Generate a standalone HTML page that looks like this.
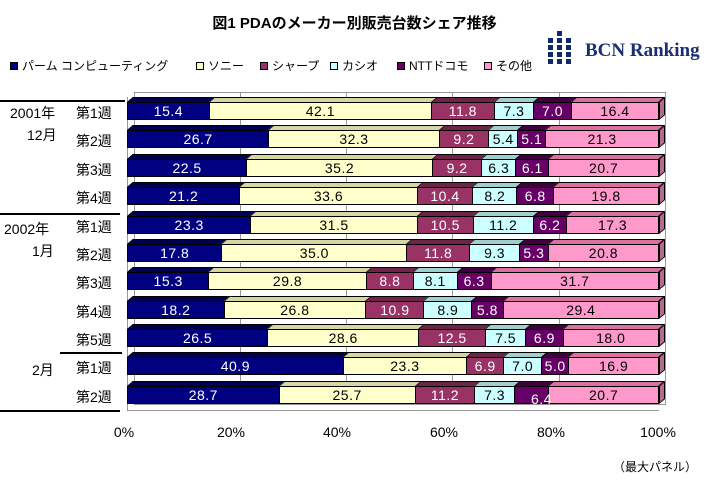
<!DOCTYPE html>
<html><head><meta charset="utf-8"><style>
*{margin:0;padding:0;box-sizing:border-box}
body{width:709px;height:482px;background:#fff;position:relative;overflow:hidden;font-family:"Liberation Sans","Noto Sans CJK JP",sans-serif;color:#000}
.abs{position:absolute}
.row{position:absolute;left:127px;width:532px;height:18px}
.f,.t{position:absolute;left:0;top:0;width:100%;display:flex}
.f{height:18px}
.t{height:5px;top:-5px;transform:skewX(-50deg);transform-origin:0 100%}
.f div{border:1px solid #000;border-right:0;height:18px;font-size:14px;line-height:16px;text-align:center;overflow:visible;white-space:nowrap;letter-spacing:0.5px}
.f div:last-child{border-right:1px solid #000}
.t div{height:5px;border-top:1px solid #000;border-left:1px solid #000}
.t div:last-child{border-right:1px solid #000}
.e{position:absolute;right:-6px;top:-5px;width:6px;height:18px;background:#b36b8f;border:1px solid #000;transform:skewY(-40deg);transform-origin:0 100%;top:0}
.a{background:#000080;color:#fff}.b{background:#ffffcc}.c{background:#993366;color:#fff}.d{background:#ccffff}.g{background:#660066;color:#fff}.h{background:#ff99cc}
.t .a{background:#000050}.t .b{background:#d6d6a0}.t .c{background:#6e2449}.t .d{background:#9fcfcf}.t .g{background:#400040}.t .h{background:#d9709f}
.lab{position:absolute;font-size:14px;left:76px}
.lg{position:absolute;top:57px;font-size:12px}
.sq{display:inline-block;width:8px;height:8px;border:1px solid #000;margin-right:4px;vertical-align:0}
.tk{position:absolute;top:424px;font-size:14px;width:60px;text-align:center}
.gl{position:absolute;width:1px;background:#999;top:92px;height:313px}
.dot{position:absolute;width:5px;height:5px;background:#0d2a6b}
</style></head><body>
<div class="abs" style="left:0;width:709px;top:12px;text-align:center;font-weight:bold;font-size:15px">図1 PDAのメーカー別販売台数シェア推移</div>
<div class="lg" style="left:10px"><span class="sq" style="background:#000080"></span>パーム コンピューティング</div>
<div class="lg" style="left:196px"><span class="sq" style="background:#ffffcc"></span>ソニー</div>
<div class="lg" style="left:260px"><span class="sq" style="background:#993366"></span>シャープ</div>
<div class="lg" style="left:330px"><span class="sq" style="background:#ccffff"></span>カシオ</div>
<div class="lg" style="left:397px"><span class="sq" style="background:#660066"></span>NTTドコモ</div>
<div class="lg" style="left:484px"><span class="sq" style="background:#ff99cc"></span>その他</div>
<div class="dot" style="left:557px;top:31px"></div>
<div class="dot" style="left:548px;top:38px"></div><div class="dot" style="left:557px;top:38px"></div><div class="dot" style="left:566px;top:38px"></div>
<div class="dot" style="left:548px;top:45px"></div><div class="dot" style="left:557px;top:45px"></div><div class="dot" style="left:566px;top:45px"></div>
<div class="dot" style="left:548px;top:52px"></div><div class="dot" style="left:557px;top:52px"></div><div class="dot" style="left:566px;top:52px"></div>
<div class="dot" style="left:548px;top:59px"></div><div class="dot" style="left:557px;top:59px"></div><div class="dot" style="left:566px;top:59px"></div>
<div class="abs" style="left:585px;top:40px;font-family:'Liberation Serif',serif;font-weight:bold;font-size:19px;color:#1a2f73">BCN Ranking</div>

<div class="abs" style="left:127px;top:97px;width:1px;height:314px;background:#999"></div>
<div class="abs" style="left:134px;top:92px;width:1px;height:313px;background:#999"></div>
<div class="abs" style="left:134px;top:92px;width:531px;height:1px;background:#999"></div>
<div class="abs" style="left:665px;top:92px;width:1px;height:313px;background:#999"></div>
<div class="abs" style="left:127px;top:410px;width:532px;height:1px;background:#999"></div>
<div class="abs" style="left:134px;top:404px;width:531px;height:1px;background:#999"></div>
<div class="gl" style="left:240px"></div><div class="gl" style="left:346px"></div><div class="gl" style="left:452px"></div><div class="gl" style="left:559px"></div>

<div class="abs" style="left:0;top:100px;width:125px;height:2px;background:#000"></div>
<div class="abs" style="left:0;top:213px;width:120px;height:2px;background:#000"></div>
<div class="abs" style="left:60px;top:352px;width:62px;height:2px;background:#000"></div>
<div class="abs" style="left:0;top:410px;width:120px;height:2px;background:#000"></div>
<div class="abs" style="left:10px;top:103px;font-size:14px">2001年</div>
<div class="abs" style="left:27px;top:125px;font-size:14px">12月</div>
<div class="abs" style="left:4px;top:219px;font-size:14px">2002年</div>
<div class="abs" style="left:32px;top:241px;font-size:14px">1月</div>
<div class="abs" style="left:32px;top:360px;font-size:14px">2月</div>
<div class="lab" style="top:103px">第1週</div>
<div class="lab" style="top:131px">第2週</div>
<div class="lab" style="top:160px">第3週</div>
<div class="lab" style="top:188px">第4週</div>
<div class="lab" style="top:217px">第1週</div>
<div class="lab" style="top:245px">第2週</div>
<div class="lab" style="top:273px">第3週</div>
<div class="lab" style="top:302px">第4週</div>
<div class="lab" style="top:330px">第5週</div>
<div class="lab" style="top:358px">第1週</div>
<div class="lab" style="top:387px">第2週</div>

<div class="row" style="top:102px"><div class="t"><div class="a" style="flex:15.4"></div><div class="b" style="flex:42.1"></div><div class="c" style="flex:11.8"></div><div class="d" style="flex:7.3"></div><div class="g" style="flex:7.0"></div><div class="h" style="flex:16.4"></div></div><div class="f"><div class="a" style="flex:15.4">15.4</div><div class="b" style="flex:42.1">42.1</div><div class="c" style="flex:11.8">11.8</div><div class="d" style="flex:7.3">7.3</div><div class="g" style="flex:7.0">7.0</div><div class="h" style="flex:16.4">16.4</div></div><div class="e"></div></div>
<div class="row" style="top:130px"><div class="t"><div class="a" style="flex:26.7"></div><div class="b" style="flex:32.3"></div><div class="c" style="flex:9.2"></div><div class="d" style="flex:5.4"></div><div class="g" style="flex:5.1"></div><div class="h" style="flex:21.3"></div></div><div class="f"><div class="a" style="flex:26.7">26.7</div><div class="b" style="flex:32.3">32.3</div><div class="c" style="flex:9.2">9.2</div><div class="d" style="flex:5.4">5.4</div><div class="g" style="flex:5.1">5.1</div><div class="h" style="flex:21.3">21.3</div></div><div class="e"></div></div>
<div class="row" style="top:159px"><div class="t"><div class="a" style="flex:22.5"></div><div class="b" style="flex:35.2"></div><div class="c" style="flex:9.2"></div><div class="d" style="flex:6.3"></div><div class="g" style="flex:6.1"></div><div class="h" style="flex:20.7"></div></div><div class="f"><div class="a" style="flex:22.5">22.5</div><div class="b" style="flex:35.2">35.2</div><div class="c" style="flex:9.2">9.2</div><div class="d" style="flex:6.3">6.3</div><div class="g" style="flex:6.1">6.1</div><div class="h" style="flex:20.7">20.7</div></div><div class="e"></div></div>
<div class="row" style="top:187px"><div class="t"><div class="a" style="flex:21.2"></div><div class="b" style="flex:33.6"></div><div class="c" style="flex:10.4"></div><div class="d" style="flex:8.2"></div><div class="g" style="flex:6.8"></div><div class="h" style="flex:19.8"></div></div><div class="f"><div class="a" style="flex:21.2">21.2</div><div class="b" style="flex:33.6">33.6</div><div class="c" style="flex:10.4">10.4</div><div class="d" style="flex:8.2">8.2</div><div class="g" style="flex:6.8">6.8</div><div class="h" style="flex:19.8">19.8</div></div><div class="e"></div></div>
<div class="row" style="top:216px"><div class="t"><div class="a" style="flex:23.3"></div><div class="b" style="flex:31.5"></div><div class="c" style="flex:10.5"></div><div class="d" style="flex:11.2"></div><div class="g" style="flex:6.2"></div><div class="h" style="flex:17.3"></div></div><div class="f"><div class="a" style="flex:23.3">23.3</div><div class="b" style="flex:31.5">31.5</div><div class="c" style="flex:10.5">10.5</div><div class="d" style="flex:11.2">11.2</div><div class="g" style="flex:6.2">6.2</div><div class="h" style="flex:17.3">17.3</div></div><div class="e"></div></div>
<div class="row" style="top:244px"><div class="t"><div class="a" style="flex:17.8"></div><div class="b" style="flex:35.0"></div><div class="c" style="flex:11.8"></div><div class="d" style="flex:9.3"></div><div class="g" style="flex:5.3"></div><div class="h" style="flex:20.8"></div></div><div class="f"><div class="a" style="flex:17.8">17.8</div><div class="b" style="flex:35.0">35.0</div><div class="c" style="flex:11.8">11.8</div><div class="d" style="flex:9.3">9.3</div><div class="g" style="flex:5.3">5.3</div><div class="h" style="flex:20.8">20.8</div></div><div class="e"></div></div>
<div class="row" style="top:272px"><div class="t"><div class="a" style="flex:15.3"></div><div class="b" style="flex:29.8"></div><div class="c" style="flex:8.8"></div><div class="d" style="flex:8.1"></div><div class="g" style="flex:6.3"></div><div class="h" style="flex:31.7"></div></div><div class="f"><div class="a" style="flex:15.3">15.3</div><div class="b" style="flex:29.8">29.8</div><div class="c" style="flex:8.8">8.8</div><div class="d" style="flex:8.1">8.1</div><div class="g" style="flex:6.3">6.3</div><div class="h" style="flex:31.7">31.7</div></div><div class="e"></div></div>
<div class="row" style="top:301px"><div class="t"><div class="a" style="flex:18.2"></div><div class="b" style="flex:26.8"></div><div class="c" style="flex:10.9"></div><div class="d" style="flex:8.9"></div><div class="g" style="flex:5.8"></div><div class="h" style="flex:29.4"></div></div><div class="f"><div class="a" style="flex:18.2">18.2</div><div class="b" style="flex:26.8">26.8</div><div class="c" style="flex:10.9">10.9</div><div class="d" style="flex:8.9">8.9</div><div class="g" style="flex:5.8">5.8</div><div class="h" style="flex:29.4">29.4</div></div><div class="e"></div></div>
<div class="row" style="top:329px"><div class="t"><div class="a" style="flex:26.5"></div><div class="b" style="flex:28.6"></div><div class="c" style="flex:12.5"></div><div class="d" style="flex:7.5"></div><div class="g" style="flex:6.9"></div><div class="h" style="flex:18.0"></div></div><div class="f"><div class="a" style="flex:26.5">26.5</div><div class="b" style="flex:28.6">28.6</div><div class="c" style="flex:12.5">12.5</div><div class="d" style="flex:7.5">7.5</div><div class="g" style="flex:6.9">6.9</div><div class="h" style="flex:18.0">18.0</div></div><div class="e"></div></div>
<div class="row" style="top:357px"><div class="t"><div class="a" style="flex:40.9"></div><div class="b" style="flex:23.3"></div><div class="c" style="flex:6.9"></div><div class="d" style="flex:7.0"></div><div class="g" style="flex:5.0"></div><div class="h" style="flex:16.9"></div></div><div class="f"><div class="a" style="flex:40.9">40.9</div><div class="b" style="flex:23.3">23.3</div><div class="c" style="flex:6.9">6.9</div><div class="d" style="flex:7.0">7.0</div><div class="g" style="flex:5.0">5.0</div><div class="h" style="flex:16.9">16.9</div></div><div class="e"></div></div>
<div class="row" style="top:386px"><div class="t"><div class="a" style="flex:28.7"></div><div class="b" style="flex:25.7"></div><div class="c" style="flex:11.2"></div><div class="d" style="flex:7.3"></div><div class="g" style="flex:6.4"></div><div class="h" style="flex:20.7"></div></div><div class="f"><div class="a" style="flex:28.7">28.7</div><div class="b" style="flex:25.7">25.7</div><div class="c" style="flex:11.2">11.2</div><div class="d" style="flex:7.3">7.3</div><div class="g" style="flex:6.4"></div><div class="h" style="flex:20.7">20.7</div></div><div class="e"></div></div>
<div class="abs" style="left:531px;top:391px;font-size:14px;color:#fff;letter-spacing:0.5px">6.4</div>

<div class="tk" style="left:94px">0%</div>
<div class="tk" style="left:201px">20%</div>
<div class="tk" style="left:307px">40%</div>
<div class="tk" style="left:414px">60%</div>
<div class="tk" style="left:521px">80%</div>
<div class="tk" style="left:628px">100%</div>
<div class="abs" style="left:613px;top:458px;font-size:12px">（最大パネル）</div>
</body></html>
